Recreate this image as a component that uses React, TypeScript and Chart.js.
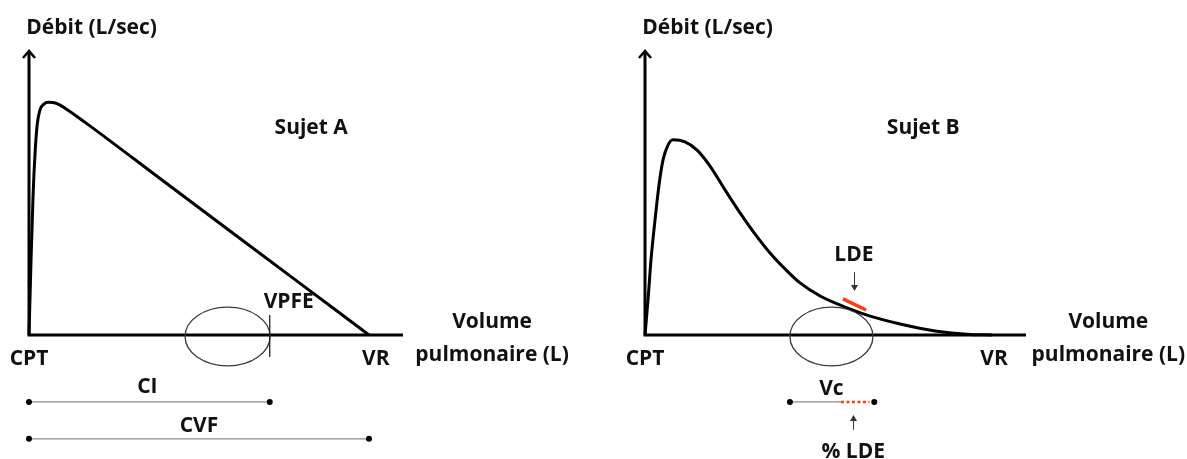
import React, { useEffect, useRef } from "react";
import { Chart, registerables } from "chart.js";

Chart.register(...registerables);

// ---------- Data (volume in L, flow in L/s) ----------
// Sujet A : normal flow-volume curve
const curveA_volume = [0, 0.03, 0.06, 0.09, 0.12, 0.16, 0.22, 0.28, 0.4, 0.53, 0.82, 2.0, 3.0, 4.0, 5.0];
const curveA_flow = [0, 2.58, 4.81, 6.29, 7.22, 7.73, 7.94, 8.0, 7.97, 7.8, 7.32, 5.25, 3.5, 1.75, 0];

// Sujet B : obstructive (concave) curve
const curveB_volume = [0, 0.044, 0.088, 0.147, 0.206, 0.265, 0.338, 0.412, 0.588, 0.765, 0.956, 1.176, 1.397, 1.618, 1.838, 2.059, 2.279, 2.574, 2.941, 3.309, 3.75, 4.265, 4.78, 5.1];
const curveB_flow = [0, 1.2, 2.58, 3.95, 5.16, 6.02, 6.53, 6.71, 6.64, 6.36, 5.81, 4.99, 4.2, 3.47, 2.82, 2.27, 1.79, 1.34, 0.96, 0.65, 0.38, 0.14, 0.02, 0];

// key volumes
const CVF_A = 5.0; // VR of subject A
const CI_A = 3.54; // VPFE
const VC_B = [2.13, 3.37]; // Vc segment, subject B
const LDE_PCT_B = [2.88, 3.3]; // % LDE portion
const LDE_SEG_VOL = [2.91, 3.25];
const LDE_SEG_FLOW = [1.24, 0.86];

// axes extents
const X_MAX_A = 5.5;
const X_MAX_B = 5.6;
const Y_MAX = 9.8;
const Y_MIN = -4.0;

// text labels [text, volume, flow, align]
const labelsA: [string, number, number, CanvasTextAlign][] = [
  ["Débit (L/sec)", -0.04, 10.55, "left"],
  ["Sujet A", 4.15, 7.11, "center"],
  ["VPFE", 3.82, 1.13, "center"],
  ["CPT", 0, -0.82, "center"],
  ["VR", 5.1, -0.82, "center"],
  ["Volume", 6.81, 0.45, "center"],
  ["pulmonaire (L)", 6.81, -0.69, "center"],
  ["CI", 1.74, -1.79, "center"],
  ["CVF", 2.5, -3.13, "center"],
];
const labelsB: [string, number, number, CanvasTextAlign][] = [
  ["Débit (L/sec)", -0.04, 10.55, "left"],
  ["Sujet B", 4.09, 7.11, "center"],
  ["LDE", 3.07, 2.75, "center"],
  ["CPT", 0, -0.82, "center"],
  ["VR", 5.13, -0.82, "center"],
  ["Volume", 6.81, 0.45, "center"],
  ["pulmonaire (L)", 6.81, -0.69, "center"],
  ["Vc", 2.74, -1.86, "center"],
  ["% LDE", 3.06, -4.02, "center"],
];

// ellipses [cx, cy, rx, ry] in data units
const ellipseA = [2.92, -0.05, 0.625, 1.01];
const ellipseB = [2.74, -0.05, 0.61, 1.01];

// small arrows [x, yFrom, yTo(tip)]
const arrowsB = [
  [3.07, 2.16, 1.51],
  [3.06, -3.26, -2.75],
];

// VPFE tick [x, yTop, yBottom]
const tickA = [CI_A, 0.69, -0.76];

const ROW_CI = -2.3;
const ROW_CVF = -3.57;

const FONT = '"Open Sans", "DejaVu Sans", sans-serif';
const RED = "#ff3d14";
const W = 1187;
const H = 459;
const AXIS_TOP_PX = 50;
const AXIS_BASE_PX = 335;

const pts = (xs: number[], ys: number[]) => xs.map((x, i) => ({ x, y: ys[i] }));

function makeAnnotPlugin(cfg: {
  labels: [string, number, number, CanvasTextAlign][];
  ellipse: number[];
  arrows: number[][];
  tick?: number[];
  xMax: number;
}) {
  return {
    id: "annot",
    beforeDatasetsDraw(chart: any) {
      const { ctx } = chart;
      const xs = chart.scales.x;
      const ys = chart.scales.y;
      const x0 = xs.getPixelForValue(0);
      const y0 = ys.getPixelForValue(0);
      const xE = xs.getPixelForValue(cfg.xMax);
      const yT = ys.getPixelForValue(Y_MAX);
      ctx.save();
      ctx.strokeStyle = "#000";
      ctx.lineWidth = 3;
      ctx.lineCap = "butt";
      ctx.beginPath();
      ctx.moveTo(x0, y0 + 1.5);
      ctx.lineTo(x0, yT + 1);
      ctx.moveTo(x0 - 1.5, y0);
      ctx.lineTo(xE, y0);
      ctx.stroke();
      // arrow head
      ctx.lineWidth = 2.5;
      ctx.lineJoin = "miter";
      ctx.beginPath();
      ctx.moveTo(x0 - 6, yT + 8);
      ctx.lineTo(x0, yT + 1);
      ctx.lineTo(x0 + 6, yT + 8);
      ctx.stroke();
      ctx.restore();
    },
    afterDatasetsDraw(chart: any) {
      const { ctx } = chart;
      const xs = chart.scales.x;
      const ys = chart.scales.y;
      const px = (v: number) => xs.getPixelForValue(v);
      const py = (v: number) => ys.getPixelForValue(v);
      ctx.save();
      // ellipse
      const [cx, cy, rx, ry] = cfg.ellipse;
      ctx.strokeStyle = "#3a3a3a";
      ctx.lineWidth = 1.3;
      ctx.beginPath();
      ctx.ellipse(px(cx), py(cy), px(cx + rx) - px(cx), py(cy) - py(cy + ry), 0, 0, Math.PI * 2);
      ctx.stroke();
      // tick
      if (cfg.tick) {
        ctx.strokeStyle = "#222";
        ctx.lineWidth = 1.3;
        ctx.beginPath();
        ctx.moveTo(px(cfg.tick[0]), py(cfg.tick[1]));
        ctx.lineTo(px(cfg.tick[0]), py(cfg.tick[2]));
        ctx.stroke();
      }
      // arrows
      ctx.strokeStyle = "#333";
      ctx.fillStyle = "#333";
      ctx.lineWidth = 1;
      cfg.arrows.forEach(([ax, a1, a2]) => {
        const X = Math.round(px(ax)) + 0.5;
        const Y1 = py(a1);
        const Y2 = py(a2);
        const dir = Y2 > Y1 ? 1 : -1;
        ctx.beginPath();
        ctx.moveTo(X, Y1);
        ctx.lineTo(X, Y2 - dir * 4);
        ctx.stroke();
        ctx.beginPath();
        ctx.moveTo(X, Y2);
        ctx.lineTo(X - 3.5, Y2 - dir * 6);
        ctx.lineTo(X + 3.5, Y2 - dir * 6);
        ctx.closePath();
        ctx.fill();
      });
      // labels
      ctx.fillStyle = "#111";
      ctx.font = `bold 21px ${FONT}`;
      ctx.textBaseline = "middle";
      cfg.labels.forEach(([t, lx, ly, al]) => {
        ctx.textAlign = al;
        ctx.fillText(t, px(lx), py(ly));
      });
      ctx.restore();
    },
  };
}

function buildOptions(xMax: number, padLeft: number, padRight: number) {
  const pxPerUnit = (AXIS_BASE_PX - AXIS_TOP_PX) / Y_MAX;
  const bottomPx = AXIS_BASE_PX - Y_MIN * pxPerUnit;
  return {
    responsive: false,
    devicePixelRatio: 1,
    animation: false as const,
    events: [],
    layout: { padding: { left: padLeft, right: padRight, top: AXIS_TOP_PX, bottom: H - bottomPx } },
    plugins: { legend: { display: false }, tooltip: { enabled: false } },
    scales: {
      x: { type: "linear" as const, min: 0, max: xMax, display: false },
      y: { type: "linear" as const, min: Y_MIN, max: Y_MAX, display: false },
    },
  };
}

const rangeStyle = {
  showLine: true,
  borderColor: "#8c8c8c",
  borderWidth: 1.3,
  pointRadius: 3,
  pointBackgroundColor: "#000",
  pointBorderColor: "#000",
  pointBorderWidth: 0,
  clip: false,
};

export default function App() {
  const refA = useRef<HTMLCanvasElement>(null);
  const refB = useRef<HTMLCanvasElement>(null);

  useEffect(() => {
    const chartA = new Chart(refA.current!, {
      type: "scatter",
      data: {
        datasets: [
          {
            data: pts(curveA_volume, curveA_flow),
            showLine: true,
            borderColor: "#000",
            borderWidth: 3,
            pointRadius: 0,
            cubicInterpolationMode: "monotone",
            clip: false,
          } as any,
          { data: [{ x: 0, y: ROW_CI }, { x: CI_A, y: ROW_CI }], ...rangeStyle } as any,
          { data: [{ x: 0, y: ROW_CVF }, { x: CVF_A, y: ROW_CVF }], ...rangeStyle } as any,
        ],
      },
      options: buildOptions(X_MAX_A, 29, W - 403) as any,
      plugins: [makeAnnotPlugin({ labels: labelsA, ellipse: ellipseA, arrows: [], tick: tickA, xMax: X_MAX_A })],
    });

    const chartB = new Chart(refB.current!, {
      type: "scatter",
      data: {
        datasets: [
          {
            data: pts(curveB_volume, curveB_flow),
            showLine: true,
            borderColor: "#000",
            borderWidth: 3,
            pointRadius: 0,
            cubicInterpolationMode: "monotone",
            clip: false,
          } as any,
          {
            data: pts(LDE_SEG_VOL, LDE_SEG_FLOW),
            showLine: true,
            borderColor: RED,
            borderWidth: 3.5,
            pointRadius: 0,
            clip: false,
          } as any,
          {
            data: [{ x: VC_B[0], y: ROW_CI }, { x: LDE_PCT_B[0], y: ROW_CI }],
            ...rangeStyle,
            pointRadius: [3, 0],
          } as any,
          {
            data: [{ x: LDE_PCT_B[0], y: ROW_CI }, { x: LDE_PCT_B[1], y: ROW_CI }],
            showLine: true,
            borderColor: RED,
            borderWidth: 2.5,
            borderDash: [3, 2.5],
            pointRadius: 0,
            clip: false,
          } as any,
          {
            data: [{ x: VC_B[1], y: ROW_CI }],
            ...rangeStyle,
          } as any,
        ],
      },
      options: buildOptions(X_MAX_B, 645, W - 1026) as any,
      plugins: [makeAnnotPlugin({ labels: labelsB, ellipse: ellipseB, arrows: arrowsB, xMax: X_MAX_B })],
    });

    return () => {
      chartA.destroy();
      chartB.destroy();
    };
  }, []);

  const cs: React.CSSProperties = { position: "absolute", left: 0, top: 0, width: W, height: H };
  return (
    <div style={{ position: "fixed", left: 0, top: 0, width: W, height: H, background: "#fff" }}>
      <canvas ref={refA} width={W} height={H} style={cs} />
      <canvas ref={refB} width={W} height={H} style={cs} />
    </div>
  );
}
